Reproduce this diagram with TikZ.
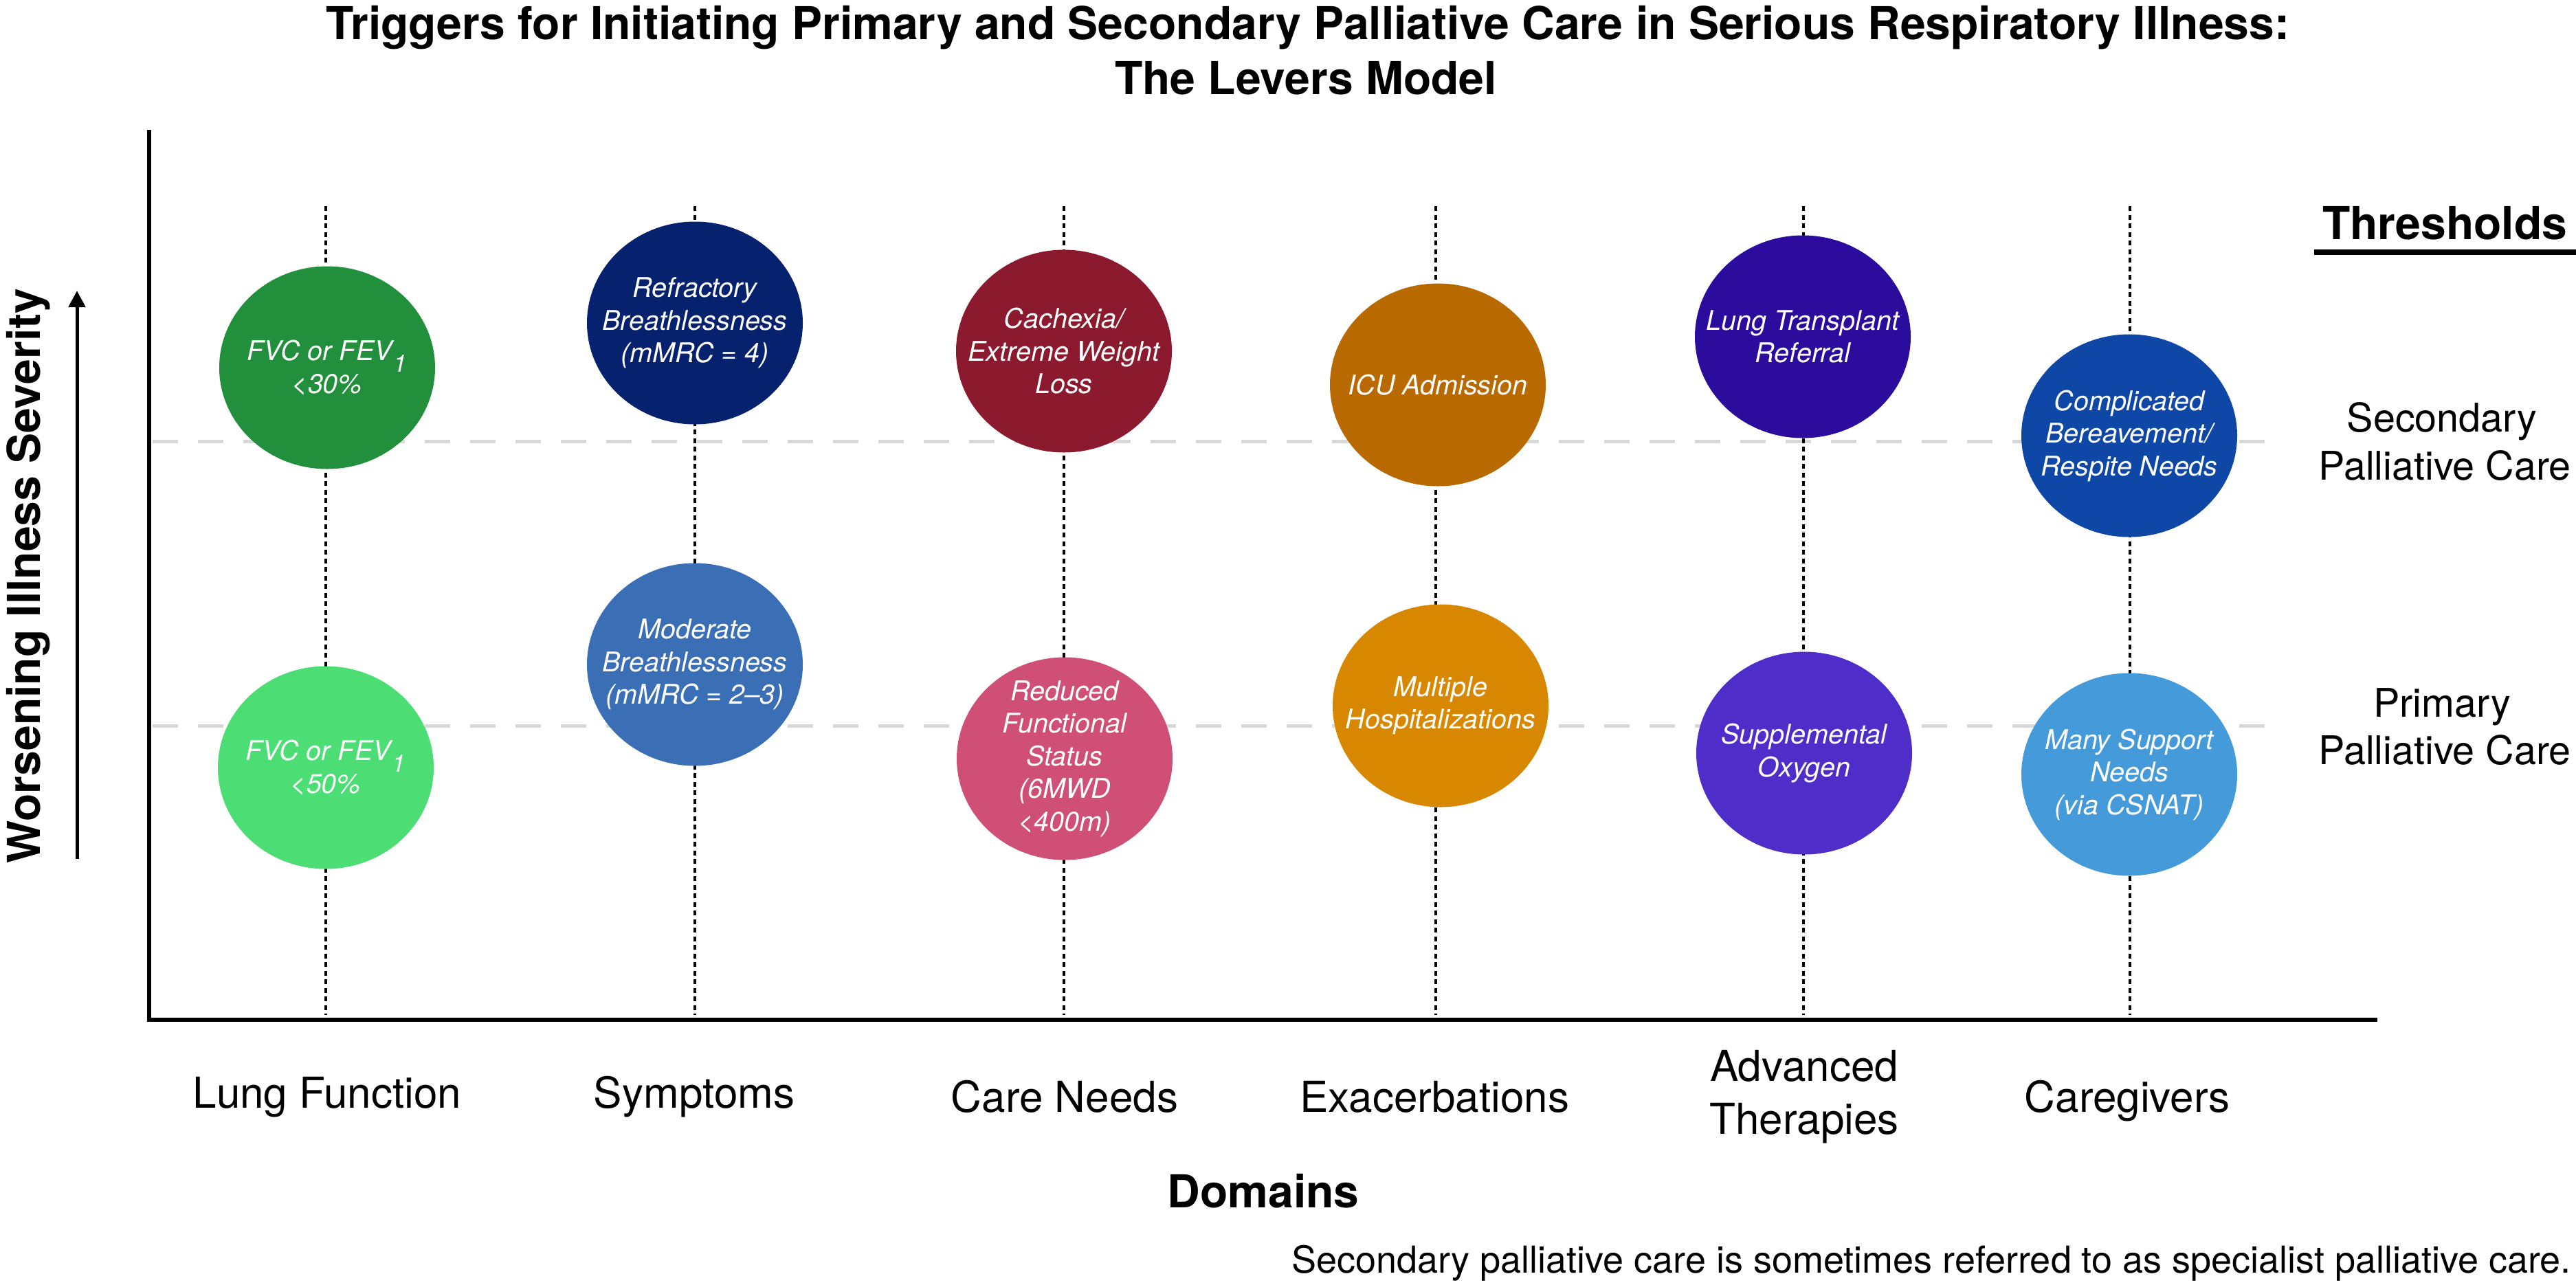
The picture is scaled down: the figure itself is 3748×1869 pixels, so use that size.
\documentclass[tikz,border=0pt]{standalone}
\usepackage{fontspec}
\setmainfont{TeX Gyre Heros}
\usetikzlibrary{shapes.geometric,arrows.meta}
\definecolor{cLFtwo}{RGB}{33,143,60}
\definecolor{cLFone}{RGB}{76,221,116}
\definecolor{cSYtwo}{RGB}{6,33,110}
\definecolor{cSYone}{RGB}{58,110,181}
\definecolor{cCNtwo}{RGB}{140,26,47}
\definecolor{cCNone}{RGB}{207,79,119}
\definecolor{cEXtwo}{RGB}{184,106,0}
\definecolor{cEXone}{RGB}{216,136,0}
\definecolor{cATtwo}{RGB}{43,12,156}
\definecolor{cATone}{RGB}{78,45,200}
\definecolor{cCGtwo}{RGB}{14,71,165}
\definecolor{cCGone}{RGB}{69,154,217}
\definecolor{gridgray}{RGB}{216,216,216}
\begin{document}
\begin{tikzpicture}[x=1pt,y=-1pt,
  axisline/.style={line width=6.5pt, line join=miter},
  dotline/.style={line width=4.5pt, dash pattern=on 7pt off 5.5pt},
  threshline/.style={draw=gridgray, line width=5pt, dash pattern=on 37pt off 29pt},
  lever/.style={ellipse, draw=none, minimum width=314pt, minimum height=295pt, inner sep=0pt},
  ltxt/.style={text=white, align=center, inner sep=0pt, font=\fontsize{39.5}{47.5}\selectfont\itshape},
  dom/.style={anchor=base, inner sep=0pt, font=\fontsize{62}{74}\selectfont},
  bigbold/.style={anchor=base, inner sep=0pt, font=\fontsize{66}{80}\selectfont\bfseries},
  thr/.style={anchor=base, inner sep=0pt, font=\fontsize{57.5}{70}\selectfont}]
\useasboundingbox[fill=white] (0,0) rectangle (3748,1869);

% threshold lines
\coordinate (secL) at (222,642);
\coordinate (secR) at (3322,642);
\coordinate (priL) at (222,1056);
\coordinate (priR) at (3322,1056);
\draw[threshline] (secL) -- (secR);
\draw[threshline] (priL) -- (priR);

% domain lever lines
\foreach \n/\x in {lf/474, sy/1011, cn/1548, ex/2089, at/2624, cg/3099}{
  \coordinate (\n top) at (\x,300);
  \coordinate (\n bot) at (\x,1477);
  \draw[dotline] (\n top) -- (\n bot);
}

% axes
\coordinate (ytop) at (217,189);
\coordinate (origin) at (217,1484);
\coordinate (xend) at (3459,1484);
\draw[axisline] (ytop) -- (origin) -- (xend);

% severity arrow
\coordinate (arrtail) at (112,1250);
\coordinate (arrtip) at (112,423);
\draw[line width=5pt, -{Triangle[width=24pt,length=24pt]}] (arrtail) -- (arrtip);

% ellipses
\node[lever, fill=cLFtwo] (lf2) at (476,535) {};
\node[lever, fill=cLFone] (lf1) at (474,1117) {};
\node[lever, fill=cSYtwo] (sy2) at (1011,470) {};
\node[lever, fill=cSYone] (sy1) at (1011,967) {};
\node[lever, fill=cCNtwo] (cn2) at (1548,511) {};
\node[lever, fill=cCNone] (cn1) at (1549,1104) {};
\node[lever, fill=cEXtwo] (ex2) at (2092,560) {};
\node[lever, fill=cEXone] (ex1) at (2096,1027) {};
\node[lever, fill=cATtwo] (at2) at (2623,490) {};
\node[lever, fill=cATone] (at1) at (2625,1096) {};
\node[lever, fill=cCGtwo] (cg2) at (3098,634) {};
\node[lever, fill=cCGone] (cg1) at (3098,1127) {};

% ellipse texts
\node[ltxt] (lf2t) at (lf2) {FVC or FEV\kern2pt\raisebox{-17pt}{\fontsize{35}{35}\selectfont 1}\\{<}30\%};
\node[ltxt] (lf1t) at (lf1) {FVC or FEV\kern2pt\raisebox{-17pt}{\fontsize{35}{35}\selectfont 1}\\{<}50\%};
\node[ltxt] (sy2t) at (sy2) {Refractory\\Breathlessness\\(mMRC = 4)};
\node[ltxt] (sy1t) at (sy1) {Moderate\\Breathlessness\\(mMRC = 2–3)};
\node[ltxt] (cn2t) at (cn2) {Cachexia/\\Extreme Weight\\Loss};
\node[ltxt] (cn1t) at (cn1) {Reduced\\Functional\\Status\\(6MWD\\{<}400m)};
\node[ltxt] (ex2t) at (ex2) {ICU Admission};
\node[ltxt] (ex1t) at (ex1) {Multiple\\Hospitalizations};
\node[ltxt] (at2t) at (at2) {Lung Transplant\\Referral};
\node[ltxt] (at1t) at (at1) {Supplemental\\Oxygen};
\node[ltxt] (cg2t) at (cg2) {Complicated\\Bereavement/\\Respite Needs};
\node[ltxt] (cg1t) at (cg1) {Many Support\\Needs\\(via CSNAT)};

% title
\node[bigbold] (title1) at (1903,57) {Triggers for Initiating Primary and Secondary Palliative Care in Serious Respiratory Illness:};
\node[bigbold] (title2) at (1900,137) {The Levers Model};

% y label
\node[bigbold, rotate=90] (ylab) at (58,838) {Worsening Illness Severity};

% thresholds
\node[bigbold] (thresh) at (3557,348) {Thresholds};
\coordinate (ulL) at (3367,367);
\coordinate (ulR) at (3748,367);
\draw[line width=8pt] (ulL) -- (ulR);
\node[thr] (sec1) at (3553,628) {Secondary};
\node[thr] (sec2) at (3557,698) {Palliative Care};
\node[thr] (pri1) at (3553,1043) {Primary};
\node[thr] (pri2) at (3557,1112) {Palliative Care};

% domain labels
\node[dom] (dlf) at (476,1612) {Lung Function};
\node[dom] (dsy) at (1010,1612) {Symptoms};
\node[dom] (dcn) at (1549,1618) {Care Needs};
\node[dom] (dex) at (2087,1618) {Exacerbations};
\node[dom] (dat1) at (2625,1573) {Advanced};
\node[dom] (dat2) at (2625,1650) {Therapies};
\node[dom] (dcg) at (3095,1618) {Caregivers};
\node[bigbold] (domains) at (1838,1757) {Domains};

% footnote
\node[anchor=base east, inner sep=0pt, font=\fontsize{54}{64}\selectfont] (foot) at (3741,1852) {Secondary palliative care is sometimes referred to as specialist palliative care.};
\end{tikzpicture}
\end{document}
